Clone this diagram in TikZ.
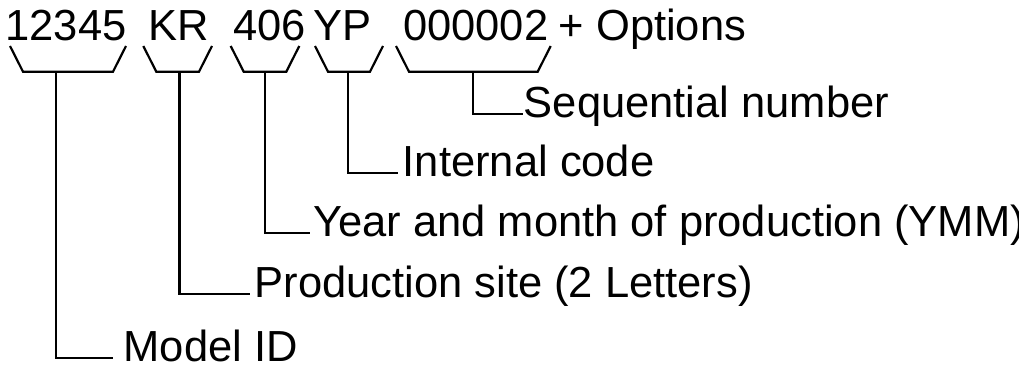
\documentclass[tikz,border=0pt]{standalone}
\usepackage{fontspec}
\setmainfont{Liberation Sans}
\usepackage{tikz}
\usetikzlibrary{positioning,calc}

\begin{document}
\begin{tikzpicture}[
  x=1pt, y=-1pt,
  font=\fontsize{43.5}{50}\selectfont,
  code/.style={anchor=base west,inner sep=0pt},
  lbl/.style={anchor=west,inner ysep=0pt,inner xsep=3pt,text height=0.716em,text depth=0pt},
  brk/.style={line width=2.2pt,black},
  conn/.style={line width=2.2pt,black}
]
\useasboundingbox (0,0) rectangle (1019,377);

% Serial number parts
\node[code] (model) at (5.3,41)   {12345};
\node[code] (site)  at (148.6,41) {KR};
\node[code] (ymm)   at (233,41)   {406};
\node[code] (intc)  at (313.5,41) {YP};
\node[code] (seq)   at (403,41)   {000002};
\node[code] (opt)   at (558.5,41) {+ Options};

% Brackets under each part
\foreach \xl/\xr in {10/126, 143.3/212, 230.7/299.3, 315/383, 396/550.7}
  \draw[brk] (\xl,46) -- ++(13,25.7) -- ({\xr-13},71.7) -- (\xr,46);

\coordinate (b1) at (55.7,71.7);
\coordinate (b2) at (179.5,71.7);
\coordinate (b3) at (264.7,71.7);
\coordinate (b4) at (348,71.7);
\coordinate (b5) at (472.7,71.7);

% Descriptions
\node[lbl,inner xsep=1pt]  (seqlbl)   at (522.7,114.3) {Sequential number};
\node[lbl,inner xsep=5pt]  (intlbl)   at (397.7,173.3) {Internal code};
\node[lbl]                 (ymmlbl)   at (310,233.3)   {Year and month of production (YMM)};
\node[lbl,inner xsep=4.5pt] (sitelbl) at (250,293.7)   {Production site (2 Letters)};
\node[lbl,inner xsep=10.7pt] (modlbl) at (112.7,358.3) {Model ID};

% Connections
\draw[conn] (b5) |- (seqlbl.west);
\draw[conn] (b4) |- (intlbl.west);
\draw[conn] (b3) |- (ymmlbl.west);
\draw[conn] (b2) |- (sitelbl.west);
\draw[conn] (b1) |- (modlbl.west);

\end{tikzpicture}
\end{document}
